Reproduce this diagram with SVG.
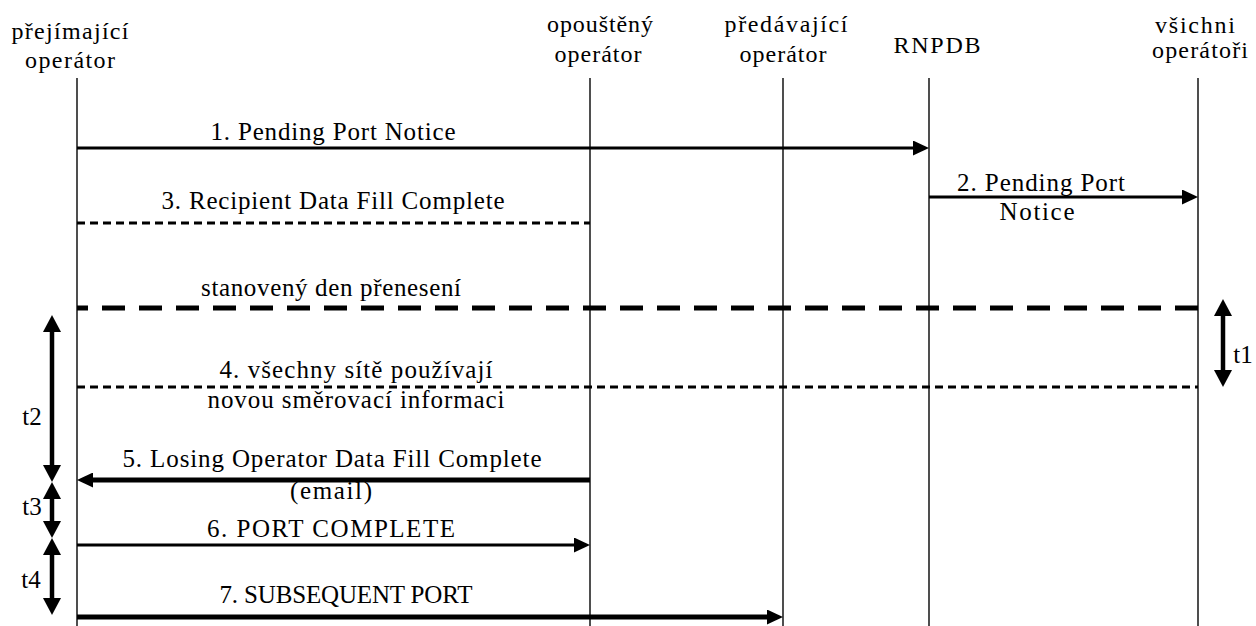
<svg xmlns="http://www.w3.org/2000/svg" width="1256" height="626" viewBox="0 0 1256 626">
<style>
text{font-family:"Liberation Serif","Times New Roman",serif;font-size:25px;fill:#000;text-anchor:middle}
.hd{font-size:24px}
.life{stroke:#222;stroke-width:1.6;fill:none}
.msg{stroke:#000;fill:none}
.tk{stroke:#000;stroke-width:4.5;fill:none}
</style>
<defs>
<marker id="ah" markerUnits="userSpaceOnUse" markerWidth="16" markerHeight="15" refX="6" refY="7.5" orient="auto">
<path d="M0,0 L16,7.5 L0,15 z" fill="#000"/>
</marker>
<marker id="dh" markerUnits="userSpaceOnUse" markerWidth="17" markerHeight="18" refX="7" refY="9" orient="auto-start-reverse">
<path d="M0,0 L17,9 L0,18 z" fill="#000"/>
</marker>
</defs>
<rect width="1256" height="626" fill="#fff"/>

<g id="node-prejimajici">
<text class="hd" x="70" y="39" textLength="117">přejímající</text>
<text class="hd" x="70" y="68" textLength="90">operátor</text>
<line class="life" x1="77" y1="78" x2="77" y2="626"/>
</g>
<g id="node-opousteny">
<text class="hd" x="600" y="32" textLength="106">opouštěný</text>
<text class="hd" x="598" y="62" textLength="87">operátor</text>
<line class="life" x1="590" y1="78" x2="590" y2="626"/>
</g>
<g id="node-predavajici">
<text class="hd" x="786" y="32" textLength="123">předávající</text>
<text class="hd" x="783" y="62" textLength="87">operátor</text>
<line class="life" x1="783" y1="78" x2="783" y2="626"/>
</g>
<g id="node-rnpdb">
<text class="hd" x="937" y="53" textLength="87">RNPDB</text>
<line class="life" x1="929" y1="78" x2="929" y2="626"/>
</g>
<g id="node-vsichni">
<text class="hd" x="1195" y="33" textLength="80">všichni</text>
<text class="hd" x="1200" y="58" textLength="96">operátoři</text>
<line class="life" x1="1198" y1="78" x2="1198" y2="626"/>
</g>

<g id="labels">
<text x="333" y="140" textLength="245">1. Pending Port Notice</text>
<text x="1041" y="191" textLength="168">2. Pending Port</text>
<text x="1037" y="220" textLength="75">Notice</text>
<text x="333" y="209" textLength="343">3. Recipient Data Fill Complete</text>
<text x="331" y="296" textLength="260">stanovený den přenesení</text>
<text x="356" y="378" textLength="273">4. všechny sítě používají</text>
<text x="356" y="408" textLength="297">novou směrovací informaci</text>
<text x="332" y="467" textLength="419">5. Losing Operator Data Fill Complete</text>
<text x="331" y="499" textLength="82">(email)</text>
<text x="331" y="537" textLength="248">6. PORT COMPLETE</text>
<text x="346" y="603" textLength="253">7. SUBSEQUENT PORT</text>
<text x="1243" y="363">t1</text>
<text x="32" y="425">t2</text>
<text x="32" y="515">t3</text>
<text x="31" y="588">t4</text>
</g>

<g id="connectors">
<line class="msg" stroke-width="3" x1="77" y1="148" x2="919" y2="148" marker-end="url(#ah)"/>
<line class="msg" stroke-width="3" x1="929" y1="197" x2="1188" y2="197" marker-end="url(#ah)"/>
<line class="msg" stroke-width="3" stroke-dasharray="8 5" x1="77" y1="223" x2="590" y2="223"/>
<line class="msg" stroke-width="5" stroke-dasharray="23 14" x1="1198" y1="308" x2="77" y2="308"/>
<line class="msg" stroke-width="3" stroke-dasharray="8 5" x1="77" y1="387" x2="1198" y2="387"/>
<line class="msg" stroke-width="5" x1="590" y1="480" x2="87" y2="480" marker-end="url(#ah)"/>
<line class="msg" stroke-width="3" x1="77" y1="545" x2="580" y2="545" marker-end="url(#ah)"/>
<line class="msg" stroke-width="5" x1="77" y1="617" x2="773" y2="617" marker-end="url(#ah)"/>
<line class="tk" x1="1223" y1="309" x2="1223" y2="377" marker-start="url(#dh)" marker-end="url(#dh)"/>
<line class="tk" x1="52" y1="325" x2="52" y2="472" marker-start="url(#dh)" marker-end="url(#dh)"/>
<line class="tk" x1="52" y1="492" x2="52" y2="528" marker-start="url(#dh)" marker-end="url(#dh)"/>
<line class="tk" x1="52" y1="548" x2="52" y2="605" marker-start="url(#dh)" marker-end="url(#dh)"/>
</g>
</svg>
